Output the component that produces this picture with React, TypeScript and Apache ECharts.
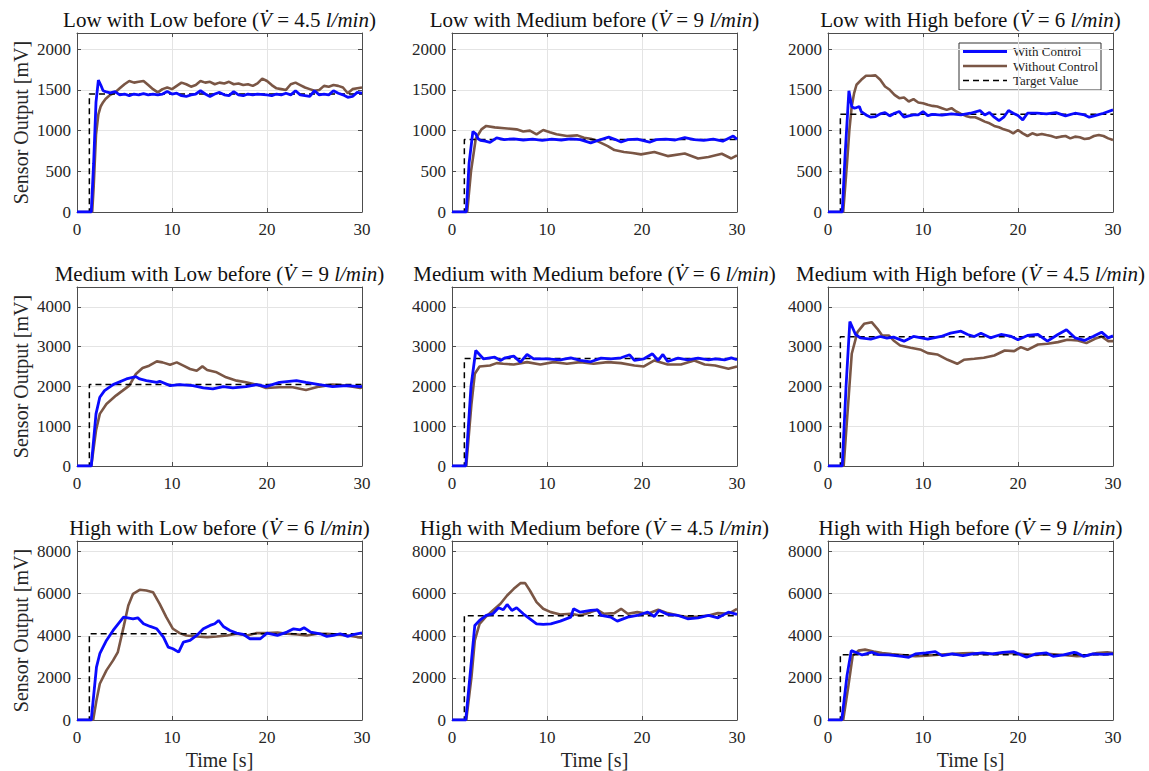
import React, { useEffect, useRef } from "react";
import * as echarts from "echarts";

// ---- Data (time [s], sensor output [mV]) ----
const stepTime = 1.3;
const targets = [1450, 890, 1200, 2050, 2700, 3250, 4100, 4950, 3100];
const rowYMax = [2200, 4500, 8500];
const rowYInterval = [500, 1000, 2000];
const xTicks = [0, 10, 20, 30];
const legendNames = ["With Control", "Without Control", "Target Value"];

const titlesLevel = ["Low with Low before", "Low with Medium before", "Low with High before",
  "Medium with Low before", "Medium with Medium before", "Medium with High before",
  "High with Low before", "High with Medium before", "High with High before"];
const flowRates = ["4.5", "9", "6", "9", "6", "4.5", "6", "4.5", "9"];

const lowLowWith = [[0,0],[1.5,0],[1.75,600],[2,1350],[2.25,1620],[2.5,1560],[2.75,1490],[3,1480],[3.5,1465],[4,1480],[4.5,1440],[5,1450],[5.5,1430],[6,1450],[6.5,1440],[7,1455],[7.5,1440],[8,1450],[8.5,1440],[9,1450],[9.5,1480],[10,1450],[10.5,1460],[11,1430],[11.5,1420],[12,1440],[12.5,1450],[13,1490],[13.5,1450],[14,1420],[14.5,1450],[15,1470],[15.5,1440],[16,1430],[16.5,1480],[17,1440],[17.5,1430],[18,1450],[18.5,1440],[19,1450],[20,1440],[20.5,1430],[21,1450],[21.5,1440],[22,1460],[22.5,1440],[23,1490],[23.5,1440],[24,1430],[24.5,1420],[25,1490],[25.5,1440],[26,1450],[26.5,1440],[27,1490],[27.5,1460],[28,1440],[28.5,1410],[29,1420],[29.5,1470],[30,1460]];
const lowLowWithout = [[0,0],[1.6,0],[1.75,300],[2,950],[2.25,1200],[2.5,1300],[2.75,1350],[3,1390],[3.5,1440],[4,1470],[4.5,1520],[5,1570],[5.5,1610],[6,1590],[6.5,1600],[7,1610],[7.5,1560],[8,1510],[8.5,1470],[9,1510],[9.5,1530],[10,1510],[10.5,1550],[11,1590],[11.5,1570],[12,1540],[12.5,1560],[13,1610],[13.5,1590],[14,1600],[14.5,1570],[15,1590],[15.5,1580],[16,1600],[16.5,1570],[17,1580],[17.5,1560],[18,1570],[18.5,1550],[19,1580],[19.5,1640],[20,1610],[20.5,1560],[21,1520],[21.5,1510],[22,1500],[22.5,1570],[23,1590],[23.5,1560],[24,1530],[24.5,1510],[25,1490],[25.5,1500],[26,1550],[26.5,1540],[27,1560],[27.5,1550],[28,1530],[28.5,1460],[29,1510],[29.5,1520],[30,1530]];

const lowMedWith = [[0,0],[1.5,0],[1.8,600],[2.2,990],[2.5,960],[2.75,900],[3,880],[3.5,870],[4,855],[4.7,910],[5.5,890],[6.5,900],[7.5,885],[8.5,895],[9.5,880],[10.5,895],[11.5,885],[12.5,900],[13.5,890],[14.6,850],[15.5,885],[16.5,920],[17.2,890],[17.8,860],[18.5,890],[19.5,895],[20.8,858],[21.5,890],[22.5,895],[23.5,885],[24.5,915],[25.5,890],[26.5,880],[27.5,895],[28.5,870],[29.6,935],[30,893]];
const lowMedWithout = [[0,0],[1.6,0],[2,500],[2.5,900],[3.1,1015],[3.6,1058],[4.5,1040],[5.5,1030],[6.8,1016],[7.5,990],[8.2,1000],[8.9,955],[9.6,1008],[10.3,980],[11,955],[12.1,934],[13.2,942],[13.9,913],[14.6,900],[15.3,872],[16.4,810],[17.1,761],[18.1,737],[19,725],[19.9,708],[21.3,737],[22.7,687],[24.5,720],[25.9,658],[27,675],[28.4,716],[29.4,658],[30,695]];

const lowHighWith = [[0,0],[1.5,0],[1.8,700],[2.2,1490],[2.5,1296],[2.75,1276],[3,1284],[3.3,1296],[3.5,1235],[4,1193],[4.5,1165],[5,1173],[5.5,1206],[6,1222],[6.5,1181],[7,1214],[7.5,1235],[8,1165],[8.5,1181],[9,1193],[9.5,1193],[10,1235],[10.5,1185],[11,1200],[12,1190],[13,1205],[14,1193],[15,1214],[16,1247],[16.5,1193],[17,1222],[17.5,1165],[18,1123],[18.5,1165],[19,1247],[19.5,1214],[20,1185],[20.5,1132],[21,1214],[22,1214],[23,1206],[24,1222],[25,1181],[26,1214],[27,1193],[27.5,1165],[28,1181],[29,1214],[30,1255]];
const lowHighWithout = [[0,0],[1.6,0],[2,597],[2.25,1008],[2.5,1300],[2.75,1461],[3,1564],[3.5,1625],[4,1675],[4.5,1675],[5,1679],[5.5,1625],[6,1543],[6.5,1502],[7,1440],[7.5,1399],[8,1407],[8.5,1358],[9,1387],[9.5,1346],[10,1337],[10.5,1317],[11,1304],[11.5,1296],[12,1276],[12.5,1255],[13,1276],[13.5,1235],[14,1206],[14.5,1181],[15,1165],[15.5,1165],[16,1140],[16.5,1111],[17,1090],[17.5,1058],[18,1041],[18.5,1016],[19,1000],[19.5,967],[20,1008],[20.5,967],[21,934],[21.5,967],[22,946],[22.5,959],[23,946],[23.5,934],[24,914],[24.5,926],[25,934],[25.5,905],[26,926],[26.5,918],[27,897],[27.5,905],[28,934],[28.5,946],[29,934],[29.5,905],[30,885]];

const medLowWith = [[0,0],[1.5,0],[2,1311],[2.4,1728],[2.9,1895],[3.8,2046],[5.2,2188],[6.2,2246],[6.6,2188],[7.3,2146],[8.4,2104],[8.7,2129],[9.8,2021],[10.8,2046],[12.2,2021],[13.3,1962],[14.3,1937],[15.4,1996],[16.4,1962],[17.8,1996],[18.9,2046],[19.9,1996],[21.3,2104],[23.1,2146],[24.1,2104],[25.5,2046],[26.9,1996],[28.4,2021],[29.8,1996],[30,2000]];
const medLowWithout = [[0,0],[1.5,0],[2,893],[2.4,1311],[3.1,1561],[4.1,1770],[4.8,1895],[5.5,2021],[6.2,2313],[6.9,2463],[7.6,2522],[8.4,2630],[9,2605],[9.8,2547],[10.5,2605],[11.2,2522],[11.9,2438],[12.6,2396],[13.2,2505],[13.7,2413],[14.7,2355],[15.7,2229],[16.8,2146],[17.8,2104],[18.9,2046],[19.9,1962],[21.3,1979],[22.7,1979],[24.1,1912],[25.5,1996],[26.9,2046],[28.4,2021],[29.8,1962],[30,1980]];

const medMedWith = [[0,0],[1.45,0],[2,2000],[2.5,2904],[3.3,2695],[4.5,2737],[5.1,2653],[5.6,2720],[6.5,2762],[7.2,2611],[7.9,2804],[8.6,2695],[10,2695],[11.4,2670],[12.5,2720],[13.5,2653],[14.6,2620],[15.7,2712],[16.7,2695],[17.8,2720],[18.7,2796],[19.2,2653],[20.2,2695],[21.1,2821],[21.7,2653],[22.2,2804],[22.7,2628],[23.8,2712],[24.8,2670],[25.9,2712],[27,2670],[27.7,2695],[28.7,2670],[29.4,2720],[30,2670]];
const medMedWithout = [[0,0],[1.5,0],[2.05,1565],[2.4,2318],[2.9,2503],[4,2528],[4.7,2586],[5.4,2570],[6.5,2553],[7.9,2611],[9.3,2553],[10.7,2611],[12.1,2570],[13.5,2611],[14.9,2570],[16.4,2611],[17.8,2586],[19.2,2528],[20.2,2503],[21.3,2653],[22.7,2553],[24.1,2553],[25.5,2653],[26.6,2553],[27.7,2528],[29.1,2444],[30,2503]];

const medHighWith = [[0,0],[1.5,0],[1.9,2000],[2.3,3633],[2.9,3306],[3.4,3222],[4.5,3189],[5.5,3256],[6.2,3214],[6.9,3239],[8,3139],[9,3256],[10.5,3189],[11.9,3256],[12.9,3340],[14,3390],[14.7,3306],[15.4,3256],[16.1,3340],[17.1,3222],[18.2,3306],[19.3,3256],[20,3172],[21,3281],[22.1,3306],[23.1,3139],[24.2,3306],[25.1,3423],[26,3222],[27,3156],[27.9,3256],[28.8,3365],[29.5,3222],[30,3272]];
const medHighWithout = [[0,0],[1.65,0],[2.2,1816],[2.5,2821],[3.1,3365],[3.8,3574],[4.6,3616],[5.2,3449],[5.7,3281],[6.4,3281],[6.9,3156],[7.6,3030],[8.7,2971],[9.8,2921],[10.5,2837],[11.5,2804],[12.6,2670],[13.6,2570],[14.3,2670],[15.4,2695],[16.4,2720],[17.5,2779],[18.6,2904],[19.6,2887],[20.3,2988],[21,2921],[22.1,3055],[23.1,3072],[24.2,3114],[25.2,3172],[26.3,3156],[27.2,3089],[28.1,3197],[28.8,3256],[29.5,3139],[30,3139]];

const highLowWith = [[0,0],[1.5,0],[2.05,2514],[2.4,3146],[3.1,3779],[3.8,4253],[4.9,4885],[5.9,4806],[6.4,4853],[7,4569],[7.7,4443],[8.4,4332],[9.1,3937],[9.6,3462],[10.1,3383],[10.7,3225],[11.2,3700],[11.9,3779],[12.6,4016],[13.3,4332],[14,4490],[14.5,4569],[14.9,4727],[15.4,4443],[16.1,4253],[16.8,4126],[17.5,4063],[18.2,3858],[19.3,3858],[20,4126],[21.1,4016],[22.1,4174],[22.8,4332],[23.5,4285],[23.9,4379],[24.6,4174],[25.6,4095],[26.3,3968],[27,4016],[27.7,4095],[28.5,3968],[29.2,4063],[30,4142]];
const highLowWithout = [[0,0],[1.7,0],[2.05,933],[2.4,1723],[3.1,2356],[3.8,2830],[4.3,3225],[4.9,4411],[5.4,5439],[5.9,5992],[6.6,6182],[7.3,6150],[8,6071],[8.7,5518],[9.4,4885],[10.1,4332],[10.8,4126],[11.5,4016],[12.6,3968],[13.7,3937],[14.7,3968],[15.8,4016],[16.8,4095],[17.9,4016],[18.9,4126],[20,4126],[21.1,4158],[22.1,4095],[23.2,4063],[24.2,4016],[25.3,4095],[26.3,4095],[27.4,4063],[28.5,4016],[29.5,3937],[30,3905]];

const highMedWith = [[0,0],[1.45,0],[2.05,2830],[2.4,4490],[2.9,4727],[3.6,4964],[4.3,5043],[4.9,5328],[5.4,5233],[5.8,5486],[6.3,5202],[6.8,5328],[7.5,5043],[8.2,4806],[8.9,4569],[9.6,4537],[10.4,4569],[11.4,4696],[12.5,4885],[12.8,5281],[13.5,5122],[14.6,5202],[15.3,5233],[15.7,4964],[16.7,4885],[17.4,4696],[18.5,4885],[19.5,4964],[20.6,5122],[21.3,4917],[21.8,5202],[22.7,5012],[23.8,4964],[24.8,4806],[25.9,4853],[27,4964],[28,4853],[29.1,5122],[30,5012]];
const highMedWithout = [[0,0],[1.5,0],[2.05,2040],[2.4,3779],[2.9,4569],[3.6,4917],[4.3,5202],[5.1,5518],[5.8,5913],[6.5,6229],[7.2,6498],[7.7,6498],[8.2,6150],[8.9,5597],[9.6,5281],[10.4,5122],[11.4,5012],[12.5,5043],[13.5,4964],[14.6,5122],[15.3,5233],[16,5043],[17.1,5075],[17.8,5281],[18.5,5043],[19.5,5122],[20.6,5043],[21.7,5233],[22.7,5075],[23.8,4964],[24.8,4885],[25.9,4917],[27,4964],[28,5075],[29.1,5043],[30,5281]];

const highHighWith = [[0,0],[1.45,0],[2,2107],[2.45,3295],[2.9,3216],[3.6,3089],[4.6,3216],[5.3,3105],[6.4,3089],[7.8,3026],[8.5,2978],[9.2,3137],[10.3,3184],[11.3,3248],[12,3057],[13.1,3137],[14.2,3057],[15.2,3137],[16.3,3184],[17.3,3137],[18.4,3216],[19.5,3248],[20.5,3057],[20.9,2978],[21.9,3137],[23,3184],[23.7,3026],[24.8,3089],[25.9,3216],[26.2,3184],[26.9,3026],[27.9,3137],[29,3121],[30,3137]];
const highHighWithout = [[0,0],[1.6,0],[2.15,1632],[2.6,3057],[3.2,3295],[3.9,3342],[4.8,3248],[5.7,3184],[6.7,3137],[7.8,3089],[8.5,3057],[9.2,3026],[10.3,3057],[11.3,3089],[12.7,3137],[14.2,3168],[15.2,3184],[16.3,3137],[17.7,3137],[19.1,3184],[20.5,3137],[21.9,3089],[23.4,3137],[24.8,3089],[26.2,3026],[27.2,3057],[28.3,3184],[29.4,3216],[30,3184]];

const withControl = [lowLowWith, lowMedWith, lowHighWith, medLowWith, medMedWith, medHighWith, highLowWith, highMedWith, highHighWith];
const withoutControl = [lowLowWithout, lowMedWithout, lowHighWithout, medLowWithout, medMedWithout, medHighWithout, highLowWithout, highMedWithout, highHighWithout];

// ---- Styling / layout ----
const FONT = "Liberation Serif";
const BLUE = "#0a0aff";
const BROWN = "#7a5645";
const AXIS = "#4d4d4d";
const GRIDC = "#e4e4e4";
const TXT = "#262626";
const lefts = [77, 452, 828];
const tops = [33, 287, 541];
const PW = 285;
const PH = 179;

function buildOption() {
  const grid: any[] = [];
  const xAxis: any[] = [];
  const yAxis: any[] = [];
  const series: any[] = [];
  const graphic: any[] = [];
  const plain = (v: number) => `{t|${v}}`;
  const tickRich = { t: { fontFamily: FONT, fontSize: 17, color: TXT } };

  for (let i = 0; i < 9; i++) {
    const r = Math.floor(i / 3);
    const c = i % 3;
    grid.push({ left: lefts[c], top: tops[r], width: PW, height: PH, containLabel: false });
    const tickStyle = { show: true, inside: true, length: 4, lineStyle: { color: AXIS, width: 1 } };
    const lineStyle = { show: true, onZero: false, lineStyle: { color: AXIS, width: 1 } };
    xAxis.push({
      type: "value", gridIndex: i, min: xTicks[0], max: xTicks[xTicks.length - 1], interval: 10,
      position: "bottom",
      axisLine: lineStyle, axisTick: tickStyle,
      axisLabel: { show: true, fontFamily: FONT, fontSize: 17, color: TXT, margin: 9, formatter: plain, rich: tickRich },
      splitLine: { show: true, lineStyle: { color: GRIDC, width: 1 } },
      name: r === 2 ? "Time [s]" : "", nameLocation: "middle", nameGap: 30,
      nameTextStyle: { fontFamily: FONT, fontSize: 20, color: TXT },
    });
    xAxis.push({
      type: "value", gridIndex: i, min: 0, max: 30, interval: 10, position: "top",
      axisLine: lineStyle, axisTick: tickStyle, axisLabel: { show: false }, splitLine: { show: false },
    });
    yAxis.push({
      type: "value", gridIndex: i, min: 0, max: rowYMax[r], interval: rowYInterval[r], position: "left",
      axisLine: lineStyle, axisTick: tickStyle,
      axisLabel: { show: true, fontFamily: FONT, fontSize: 17, color: TXT, margin: 6, showMaxLabel: false, formatter: plain, rich: tickRich },
      splitLine: { show: true, lineStyle: { color: GRIDC, width: 1 } },
      name: c === 0 ? "Sensor Output [mV]" : "", nameLocation: "middle", nameGap: 46, nameRotate: 90,
      nameTextStyle: { fontFamily: FONT, fontSize: 20, color: TXT },
    });
    yAxis.push({
      type: "value", gridIndex: i, min: 0, max: rowYMax[r], interval: rowYInterval[r], position: "right",
      axisLine: lineStyle, axisTick: tickStyle, axisLabel: { show: false }, splitLine: { show: false },
    });

    const xi = i * 2;
    const yi = i * 2;
    series.push({
      name: legendNames[1], type: "line", xAxisIndex: xi, yAxisIndex: yi,
      data: withoutControl[i], showSymbol: false, symbol: "none", z: 2,
      lineStyle: { color: BROWN, width: 2.6 }, itemStyle: { color: BROWN },
    });
    series.push({
      name: legendNames[2], type: "line", xAxisIndex: xi, yAxisIndex: yi,
      data: [[0, 0], [stepTime, 0], [stepTime, targets[i]], [30, targets[i]]],
      showSymbol: false, symbol: "none", z: 3,
      lineStyle: { color: "#000000", width: 1.5, type: [6, 4] }, itemStyle: { color: "#000000" },
    });
    series.push({
      name: legendNames[0], type: "line", xAxisIndex: xi, yAxisIndex: yi,
      data: withControl[i], showSymbol: false, symbol: "none", z: 4,
      lineStyle: { color: BLUE, width: 2.8 }, itemStyle: { color: BLUE },
    });

    graphic.push({
      type: "text",
      x: lefts[c] + PW / 2,
      y: tops[r] - 13,
      style: {
        text: `{n|${titlesLevel[i]} (}{i|V\u0307}{n| = ${flowRates[i]} }{i|l/min}{n|)}`,
        align: "center",
        verticalAlign: "middle",
        fill: "#111",
        rich: {
          n: { fontFamily: FONT, fontSize: 21, fill: "#111" },
          i: { fontFamily: FONT, fontSize: 21, fontStyle: "italic", fill: "#111" },
        },
      },
    });
  }

  // legend box (drawn in the top-right panel)
  const lx = 959, ly = 43, lw = 142, lh = 47;
  const legendChildren: any[] = [
    { type: "rect", shape: { x: lx, y: ly, width: lw, height: lh }, style: { fill: "#fff", stroke: "#333", lineWidth: 1 } },
  ];
  const legendColors = [BLUE, BROWN, "#000"];
  const legendWidths = [2.8, 2.6, 1.5];
  for (let k = 0; k < 3; k++) {
    const yy = ly + 8.5 + k * 14.5;
    legendChildren.push({
      type: "line",
      shape: { x1: lx + 4, y1: yy, x2: lx + 48, y2: yy },
      style: { stroke: legendColors[k], lineWidth: legendWidths[k], lineDash: k === 2 ? [6, 4] : null },
    });
    legendChildren.push({
      type: "text", x: lx + 54, y: yy,
      style: { text: legendNames[k], fontFamily: FONT, fontSize: 13, fill: "#222", align: "left", verticalAlign: "middle" },
    });
  }
  graphic.push({ type: "group", z: 100, children: legendChildren });

  return {
    animation: false,
    backgroundColor: "#ffffff",
    textStyle: { fontFamily: FONT },
    grid, xAxis, yAxis, series, graphic,
  };
}

export default function App() {
  const ref = useRef<HTMLDivElement>(null);
  useEffect(() => {
    if (!ref.current) return;
    const chart = echarts.init(ref.current, null, { renderer: "svg" });
    chart.setOption(buildOption() as any);
    return () => chart.dispose();
  }, []);
  return (
    <div
      ref={ref}
      style={{ position: "fixed", left: 0, top: 0, width: 1149, height: 771, background: "#fff" }}
    />
  );
}
